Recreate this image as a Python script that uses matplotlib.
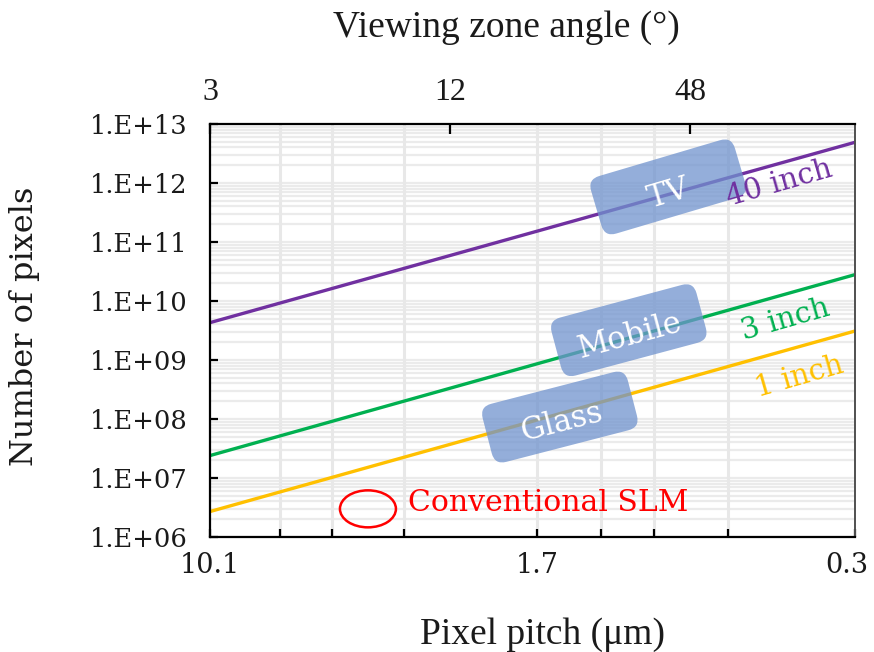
import numpy as np
import matplotlib
matplotlib.use("Agg")
import matplotlib.pyplot as plt
from matplotlib.patches import Ellipse, FancyBboxPatch
from matplotlib.transforms import Affine2D, IdentityTransform, ScaledTranslation
from matplotlib.ticker import FixedLocator, FuncFormatter, NullFormatter

# pixel pitch (um) at both ends of the axis
pitch = [10.1, 0.3]
# number of pixels for each display size
pix_40inch = [4.3e9, 4.9e12]
pix_3inch = [2.4e7, 2.8e10]
pix_1inch = [2.7e6, 3.1e9]

pitch_ticks = [10.1, 1.7, 0.3]
pitch_grid = [6.9, 5.2, 3.5, 1.2, 0.9, 0.6]
angle_labels = ["3", "12", "48"]
angle_pitch = [10.1, 2.73, 0.737]

SERIF = "DejaVu Serif"
NARROW = "Liberation Serif"

fig = plt.figure(figsize=(8.74, 6.52), dpi=100)
ax = fig.add_axes([0.2403, 0.1764, 0.9783 - 0.2403, 0.8098 - 0.1764])

ax.set_xscale("log")
ax.set_yscale("log")
ax.set_xlim(10.1, 0.3)
ax.set_ylim(1e6, 1e13)

# grid: every 1..9 x 10^n horizontally, fixed pitches vertically
for e in range(6, 13):
    for k in range(1, 10):
        ax.axhline(k * 10.0**e, color="#ebebeb", lw=1.6, zorder=0)
for p in pitch_grid + [1.7]:
    ax.axvline(p, color="#e8e8e8", lw=2.2, zorder=0)

ax.plot(pitch, pix_40inch, color="#7030a0", lw=2.4, zorder=2)
ax.plot(pitch, pix_3inch, color="#00b050", lw=2.4, zorder=2)
ax.plot(pitch, pix_1inch, color="#ffc000", lw=2.4, zorder=2)

# axes styling
for side in ("left", "bottom", "top"):
    ax.spines[side].set_linewidth(1.6)
    ax.spines[side].set_color("black")
ax.spines["right"].set_linewidth(1.4)
ax.spines["right"].set_color("#505050")

ax.xaxis.set_major_locator(FixedLocator(pitch_ticks))
ax.xaxis.set_major_formatter(FuncFormatter(lambda v, _: f"{v:g}"))
ax.xaxis.set_minor_locator(FixedLocator(pitch_grid))
ax.xaxis.set_minor_formatter(NullFormatter())
ax.yaxis.set_major_locator(FixedLocator([10.0**e for e in range(6, 14)]))
ax.yaxis.set_major_formatter(FuncFormatter(lambda v, _: f"1.E+{int(round(np.log10(v))):02d}"))
ax.yaxis.set_minor_locator(FixedLocator([]))

ax.tick_params(axis="x", which="both", direction="in", length=6, width=1.6,
               pad=11, labelsize=19.5, top=False)
ax.tick_params(axis="y", which="major", direction="in", length=6, width=1.6,
               pad=16, labelsize=18.5, right=False)

# top axis: viewing zone angle
ax2 = ax.twiny()
ax2.set_xscale("log")
ax2.set_xlim(ax.get_xlim())
ax2.xaxis.set_major_locator(FixedLocator(angle_pitch))
ax2.set_xticklabels(angle_labels)
ax2.xaxis.set_minor_locator(FixedLocator([]))
ax2.tick_params(axis="x", direction="in", length=7, width=1.6, pad=12, labelsize=23)
for s in ax2.spines.values():
    s.set_visible(False)

fig.canvas.draw()
for lab in ax.get_xticklabels() + ax.get_yticklabels():
    lab.set_family(SERIF)
    lab.set_color("#1a1a1a")
for lab in ax2.get_xticklabels():
    lab.set_family(NARROW)
    lab.set_color("#1a1a1a")
# pull the right-most pitch label inside the figure, as in the reference
last = ax.xaxis.get_major_ticks()[-1].label1
last.set_transform(last.get_transform() + ScaledTranslation(-6 / 72, 0, fig.dpi_scale_trans))

fig.text(0.579, 0.957, "Viewing zone angle (°)", ha="center", va="center",
         fontsize=27, family=NARROW, color="#1a1a1a")
fig.text(0.621, 0.027, "Pixel pitch (μm)", ha="center", va="center",
         fontsize=27, family=NARROW, color="#1a1a1a")
fig.text(0.028, 0.5, "Number of pixels", ha="center", va="center", rotation=90,
         fontsize=23, family=SERIF, color="#1a1a1a")

# application boxes (rounded, rotated, drawn in pixel units)
boxes = [
    ("TV", 0.831, 8.6e11, 16.5, 0.0, 7.0),
    ("Mobile", 1.03, 3.2e9, 15.0, 1.0, 6.0),
    ("Glass", 1.50, 1.08e8, 14.5, 2.0, 5.0),
]
for label, bx, by, ang, dx, dy in boxes:
    cx, cy = ax.transData.transform((bx, by))
    w, h = 142, 52
    patch = FancyBboxPatch((-w / 2, -h / 2), w, h,
                           boxstyle="round,pad=4,rounding_size=12",
                           facecolor="#7093ce", edgecolor="none", alpha=0.75,
                           zorder=3)
    patch.set_transform(Affine2D().rotate_deg(ang).translate(cx, cy))
    ax.add_artist(patch)
    tx, ty = ax.transData.inverted().transform((cx + dx, cy - dy))
    ax.text(tx, ty, label, color="white", fontsize=22, family=SERIF,
            rotation=ang, ha="center", va="center", rotation_mode="anchor",
            zorder=4)

ax.text(0.454, 1.0e12, "40 inch", color="#7030a0", fontsize=21, family=SERIF,
        rotation=16, ha="center", va="center", rotation_mode="anchor", zorder=4)
ax.text(0.439, 4.8e9, "3 inch", color="#00b050", fontsize=21, family=SERIF,
        rotation=16, ha="center", va="center", rotation_mode="anchor", zorder=4)
ax.text(0.407, 5.2e8, "1 inch", color="#ffc000", fontsize=21, family=SERIF,
        rotation=16, ha="center", va="center", rotation_mode="anchor", zorder=4)

# conventional SLM marker
ex, ey = ax.transData.transform((4.27, 3.0e6))
ell = Ellipse((ex, ey), 56, 37, transform=IdentityTransform(), facecolor="none",
              edgecolor="#ff0000", lw=1.8, zorder=4)
ax.add_artist(ell)
ax.text(3.43, 3.8e6, "Conventional SLM", color="#ff0000", fontsize=21.5,
        family=SERIF, ha="left", va="center", zorder=4)

fig.savefig("out.png", dpi=100)
